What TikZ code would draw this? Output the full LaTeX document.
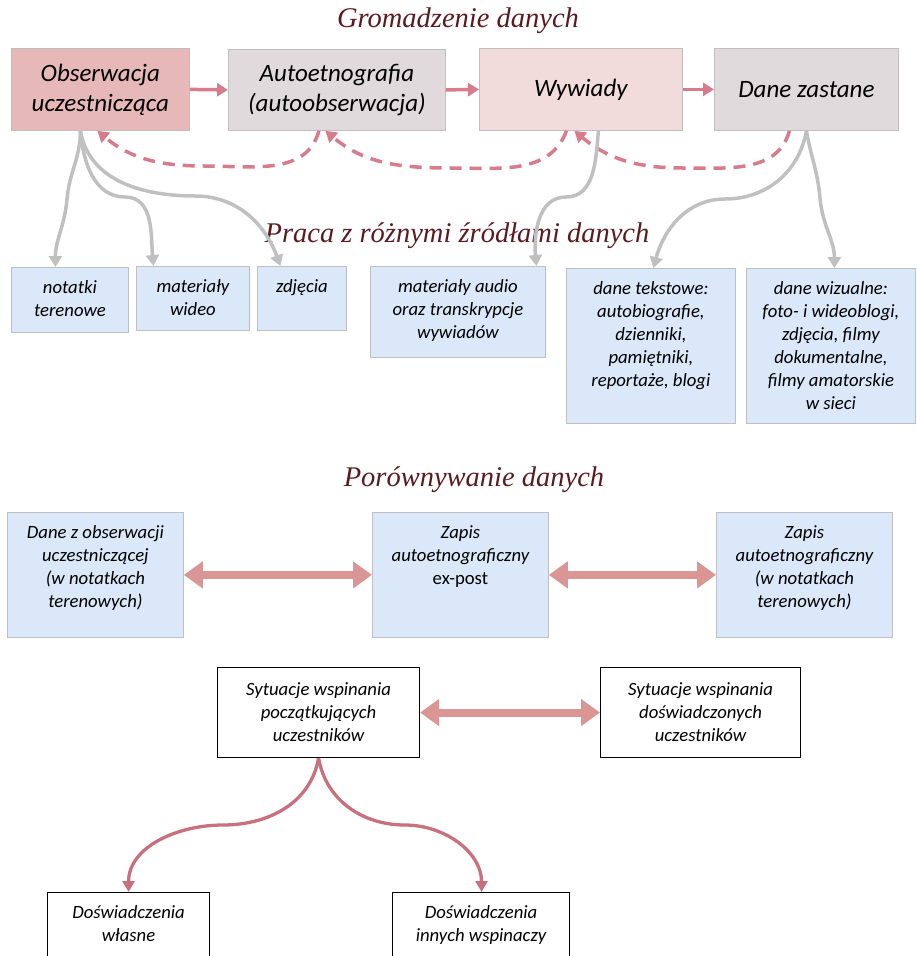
\documentclass[tikz,border=0pt]{standalone}
\usepackage{fontspec}
\setmainfont{Carlito}
\newfontfamily\titlefont{Liberation Serif}
\usetikzlibrary{arrows.meta}
\definecolor{pinkA}{HTML}{E6B9B8}
\definecolor{grayA}{HTML}{E0DADC}
\definecolor{pinkB}{HTML}{F2DCDB}
\definecolor{boxblue}{HTML}{DAE8FA}
\definecolor{bord}{HTML}{BFBFBF}
\definecolor{arrpink}{HTML}{D67C8C}
\definecolor{dblpink}{HTML}{D99694}
\definecolor{curvepink}{HTML}{C9707F}
\definecolor{conngray}{HTML}{C0C0C0}
\definecolor{titlecol}{HTML}{5A1A20}
\tikzset{
  topbox/.style={draw=bord, line width=0.8pt, anchor=north west, inner sep=0pt, align=center,
    font=\fontsize{25}{30}\selectfont\itshape},
  bluebox/.style={draw=bord, fill=boxblue, line width=0.8pt, anchor=north west, inner sep=0pt},
  whitebox/.style={draw=black, fill=white, line width=1.1pt, anchor=north west, inner sep=0pt},
  btext/.style={anchor=north, inner sep=0pt, align=center, font=\fontsize{18.7}{23}\selectfont\itshape},
  wtext/.style={inner sep=0pt, align=center, font=\fontsize{18.7}{23}\selectfont\itshape},
  ttl/.style={inner sep=0pt, text=titlecol, font=\titlefont\fontsize{28.5}{32}\selectfont\itshape},
  solidarr/.style={draw=arrpink, line width=3.5pt, -{Triangle[length=11pt,width=13pt]}},
  dasharr/.style={draw=arrpink, line width=3.5pt, dash pattern=on 12pt off 8pt, -{Triangle[length=11pt,width=13pt]}},
  grayarr/.style={draw=conngray, line width=3.5pt, -{Triangle[length=11pt,width=13pt]}},
  curvearr/.style={draw=curvepink, line width=3.3pt, -{Triangle[length=11pt,width=12pt]}},
  dblarr/.style={draw=dblpink, line width=8pt, {Triangle[length=19pt,width=26pt]}-{Triangle[length=19pt,width=26pt]}},
}
\begin{document}
\begin{tikzpicture}[x=1pt,y=-1pt]
\clip (0,0) rectangle (916,956);
\useasboundingbox (0,0) rectangle (916,956);

% titles
\node[ttl] (t1) at (458,21) {Gromadzenie danych};
\node[ttl] (t2) at (457,236) {Praca z różnymi źródłami danych};
\node[ttl] (t3) at (474,480) {Porównywanie danych};

% top boxes
\node[topbox, fill=pinkA, minimum width=178pt, minimum height=82pt] (obs) at (11,48) {Obserwacja\\uczestnicząca};
\node[topbox, fill=grayA, minimum width=217pt, minimum height=81pt] (auto) at (228,49) {Autoetnografia\\(autoobserwacja)};
\node[topbox, fill=pinkB, minimum width=203pt, minimum height=82pt] (wyw) at (479,48) {Wywiady};
\node[topbox, fill=grayA, minimum width=184pt, minimum height=82pt] (dane) at (714,48) {Dane zastane};

\draw[solidarr] (obs.east) -- (auto.west);
\draw[solidarr] (auto.east) -- (wyw.west);
\draw[solidarr] (wyw.east) -- (dane.west);

% dashed feedback arrows
\draw[dasharr] ([xshift=-18pt]auto.south) to[out=-105,in=0] (205,166) to[out=180,in=-40] ([xshift=-3pt]obs.south);
\draw[dasharr] ([xshift=-14.5pt]wyw.south) to[out=-110,in=0] (452,168) to[out=180,in=-40] ([xshift=-11.5pt]auto.south);
\draw[dasharr] ([xshift=-17pt]dane.south) to[out=-105,in=0] (683,168) to[out=180,in=-40] ([xshift=-6.5pt]wyw.south);

% source boxes
\node[bluebox, minimum width=117pt, minimum height=65pt] (not) at (11,267) {};
\node[btext] (nott) at ([yshift=-13.5pt]not.north) {notatki\\terenowe};
\node[bluebox, minimum width=113pt, minimum height=64pt] (wid) at (136,266) {};
\node[btext] (widt) at ([yshift=-13.5pt]wid.north) {materiały\\wideo};
\node[bluebox, minimum width=89pt, minimum height=64pt] (zdj) at (257,266) {};
\node[btext] (zdjt) at ([yshift=-13.5pt]zdj.north) {zdjęcia};
\node[bluebox, minimum width=175pt, minimum height=91pt] (aud) at (370,266) {};
\node[btext] (audt) at ([yshift=-13.5pt]aud.north) {materiały audio\\oraz transkrypcje\\wywiadów};
\node[bluebox, minimum width=169pt, minimum height=155pt] (tek) at (566,268) {};
\node[btext] (tekt) at ([yshift=-13.5pt]tek.north) {dane tekstowe:\\autobiografie,\\dzienniki,\\pamiętniki,\\reportaże, blogi};
\node[bluebox, minimum width=169pt, minimum height=155pt] (wiz) at (746,268) {};
\node[btext] (wizt) at ([yshift=-13.5pt]wiz.north) {dane wizualne:\\foto- i wideoblogi,\\zdjęcia, filmy\\dokumentalne,\\filmy amatorskie\\w sieci};

% gray branches
\draw[grayarr] ([xshift=-20pt]obs.south) to[out=-90,in=85] (67,199) to[out=-95,in=90] ([xshift=-14.5pt]not.north);
\draw[grayarr] ([xshift=-20pt]obs.south) to[out=-85,in=180] (125,197) to[out=0,in=95] ([xshift=-39.5pt]wid.north);
\draw[grayarr] ([xshift=-20pt]obs.south) to[out=-80,in=180] (195,196) to[out=0,in=110] ([xshift=-21.5pt]zdj.north);
\draw[grayarr] ([xshift=17.5pt]wyw.south) to[out=-95,in=0] (566,197) to[out=180,in=95] ([xshift=78.5pt]aud.north);
\draw[grayarr] (dane.south) to[out=-100,in=0] (725,199) to[out=180,in=75] ([xshift=2.5pt]tek.north);
\draw[grayarr] (dane.south) to[out=-80,in=95] (820,198) to[out=-85,in=90] ([xshift=3.5pt]wiz.north);

% comparison boxes
\node[bluebox, minimum width=176pt, minimum height=125pt] (c1) at (7,512) {};
\node[btext] (c1t) at ([yshift=-13.5pt]c1.north) {Dane z obserwacji\\uczestniczącej\\(w notatkach\\terenowych)};
\node[bluebox, minimum width=176pt, minimum height=125pt] (c2) at (372,512) {};
\node[btext] (c2t) at ([yshift=-13.5pt]c2.north) {Zapis\\autoetnograficzny\\{\upshape ex-post}};
\node[bluebox, minimum width=176pt, minimum height=125pt] (c3) at (716,512) {};
\node[btext] (c3t) at ([yshift=-13.5pt]c3.north) {Zapis\\autoetnograficzny\\(w notatkach\\terenowych)};

\draw[dblarr] (c1.east) -- (c2.west);
\draw[dblarr] (c2.east) -- (c3.west);

% situations
\node[whitebox, minimum width=202pt, minimum height=90pt, wtext] (s1) at (217,667) {Sytuacje wspinania\\początkujących\\uczestników};
\node[whitebox, minimum width=200pt, minimum height=90pt, wtext] (s2) at (600,667) {Sytuacje wspinania\\doświadczonych\\uczestników};
\draw[dblarr] (s1.east) -- (s2.west);

\node[whitebox, minimum width=162pt, minimum height=90pt] (d1) at (47,892) {};
\node[btext] (d1t) at ([yshift=-13.5pt]d1.north) {Doświadczenia\\własne};
\node[whitebox, minimum width=177pt, minimum height=90pt] (d2) at (392,892) {};
\node[btext] (d2t) at ([yshift=-13.5pt]d2.north) {Doświadczenia\\innych wspinaczy};
\draw[dblarr] ([yshift=-35pt]d1.east) -- ([yshift=-35pt]d2.west);

\draw[curvearr] (s1.south) to[out=-100,in=0] (223,825) to[out=180,in=90] (d1.north);
\draw[curvearr] (s1.south) to[out=-80,in=180] (405,825) to[out=0,in=90] ([xshift=0.5pt]d2.north);
\end{tikzpicture}
\end{document}
